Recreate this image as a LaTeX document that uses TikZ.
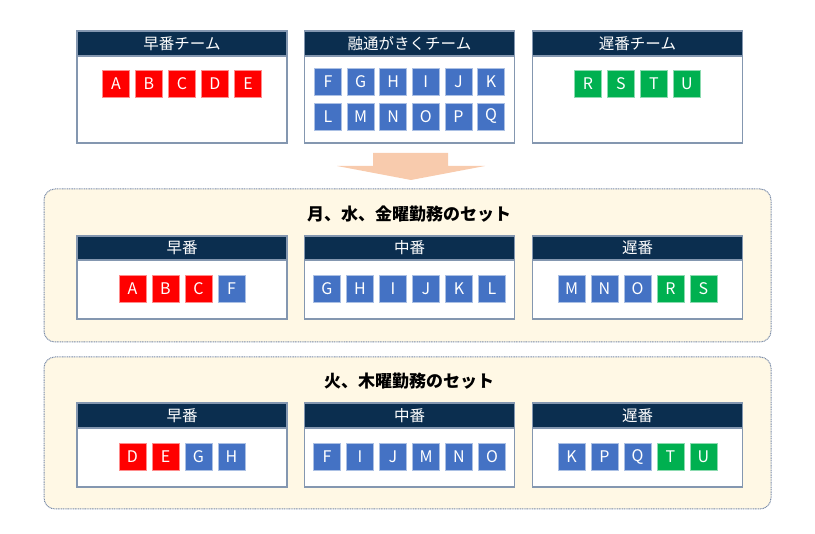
\documentclass[tikz,border=0pt]{standalone}
\usepackage{fontspec}
\setmainfont{Noto Sans CJK JP}
\usetikzlibrary{positioning}

\definecolor{hdrnavy}{HTML}{0B2E4F}
\definecolor{boxline}{HTML}{8497B0}
\definecolor{earlyred}{HTML}{FF0000}
\definecolor{flexblue}{HTML}{4472C4}
\definecolor{lategreen}{HTML}{00B050}
\definecolor{panelfill}{HTML}{FFF8E5}
\definecolor{panelline}{HTML}{7A8CAA}
\definecolor{arrowpeach}{HTML}{F8CBAD}

\tikzset{
    boxbody/.style={draw=boxline, line width=1.2pt, fill=white, minimum width=210pt, inner sep=0pt},
    boxhead/.style={draw=boxline, line width=1.2pt, fill=hdrnavy, text=white, minimum width=210pt,
        inner sep=0pt, font=\fontsize{15.5}{16}\selectfont},
    member/.style={draw=white!55!#1, line width=0.8pt, fill=#1, text=white, minimum size=27pt,
        inner sep=0pt, font=\fontsize{16}{16}\selectfont},
    setpanel/.style={draw=panelline, line width=1pt, dash pattern=on 1pt off 0.7pt, fill=panelfill,
        rounded corners=11pt, minimum width=727pt, inner sep=0pt},
    settitle/.style={font=\fontsize{17}{17}\selectfont\bfseries}
}

\begin{document}
\begin{tikzpicture}[x=1pt, y=-1pt]
    \useasboundingbox (0,0) rectangle (815,534);

    % Teams
    \foreach \cx/\name/\title in {182/early/早番チーム, 409.5/flex/融通がきくチーム, 637.5/late/遅番チーム} {
        \node[boxbody, minimum height=112pt] (\name) at (\cx,87) {};
        \node[boxhead, minimum height=25pt] (\name-h) at (\cx,43.5) {\title};
    }
    \foreach \l/\c [count=\i] in {A/earlyred,B/earlyred,C/earlyred,D/earlyred,E/earlyred} {
        \node[member=\c] (t-\l) at ({182+(\i-3)*33},83.5) {\l};
    }
    \foreach \l [count=\i] in {F,G,H,I,J,K} {
        \node[member=flexblue] (t-\l) at ({409.5+(\i-3.5)*32.6},82) {\l};
    }
    \foreach \l [count=\i] in {L,M,N,O,P,Q} {
        \node[member=flexblue] (t-\l) at ({409.5+(\i-3.5)*32.6},116.5) {\l};
    }
    \foreach \l [count=\i] in {R,S,T,U} {
        \node[member=lategreen] (t-\l) at ({637.5+(\i-2.5)*33},83.5) {\l};
    }

    % Arrow
    \fill[arrowpeach] (373,153) -- (448,153) -- (448,166) -- (485,166) -- (411,180)
        -- (337,166) -- (373,166) -- cycle;

    % Mon, Wed, Fri
    \node[setpanel, minimum height=153pt] (set1) at (407.5,265.5) {};
    \node[settitle] (set1-t) at (409,214) {月、水、金曜勤務のセット};
    \foreach \cx/\name/\title in {182/early/早番, 409.5/mid/中番, 637.5/late/遅番} {
        \node[boxbody, minimum height=83pt] (a-\name) at (\cx,277.5) {};
        \node[boxhead, minimum height=24pt] (a-\name-h) at (\cx,248) {\title};
    }
    \foreach \l/\c [count=\i] in {A/earlyred,B/earlyred,C/earlyred,F/flexblue} {
        \node[member=\c] (a-\l) at ({182+(\i-2.5)*33},289) {\l};
    }
    \foreach \l [count=\i] in {G,H,I,J,K,L} {
        \node[member=flexblue] (a-\l) at ({409.5+(\i-3.5)*33},289) {\l};
    }
    \foreach \l/\c [count=\i] in {M/flexblue,N/flexblue,O/flexblue,R/lategreen,S/lategreen} {
        \node[member=\c] (a-\l) at ({637.5+(\i-3)*33},289) {\l};
    }

    % Tue, Thu
    \node[setpanel, minimum height=152pt] (set2) at (407.5,433) {};
    \node[settitle] (set2-t) at (409,381) {火、木曜勤務のセット};
    \foreach \cx/\name/\title in {182/early/早番, 409.5/mid/中番, 637.5/late/遅番} {
        \node[boxbody, minimum height=84pt] (b-\name) at (\cx,445) {};
        \node[boxhead, minimum height=25pt] (b-\name-h) at (\cx,415.5) {\title};
    }
    \foreach \l/\c [count=\i] in {D/earlyred,E/earlyred,G/flexblue,H/flexblue} {
        \node[member=\c] (b-\l) at ({182+(\i-2.5)*33},457) {\l};
    }
    \foreach \l [count=\i] in {F,I,J,M,N,O} {
        \node[member=flexblue] (b-\l) at ({409.5+(\i-3.5)*33},457) {\l};
    }
    \foreach \l/\c [count=\i] in {K/flexblue,P/flexblue,Q/flexblue,T/lategreen,U/lategreen} {
        \node[member=\c] (b-\l) at ({637.5+(\i-3)*33},457) {\l};
    }
\end{tikzpicture}
\end{document}
